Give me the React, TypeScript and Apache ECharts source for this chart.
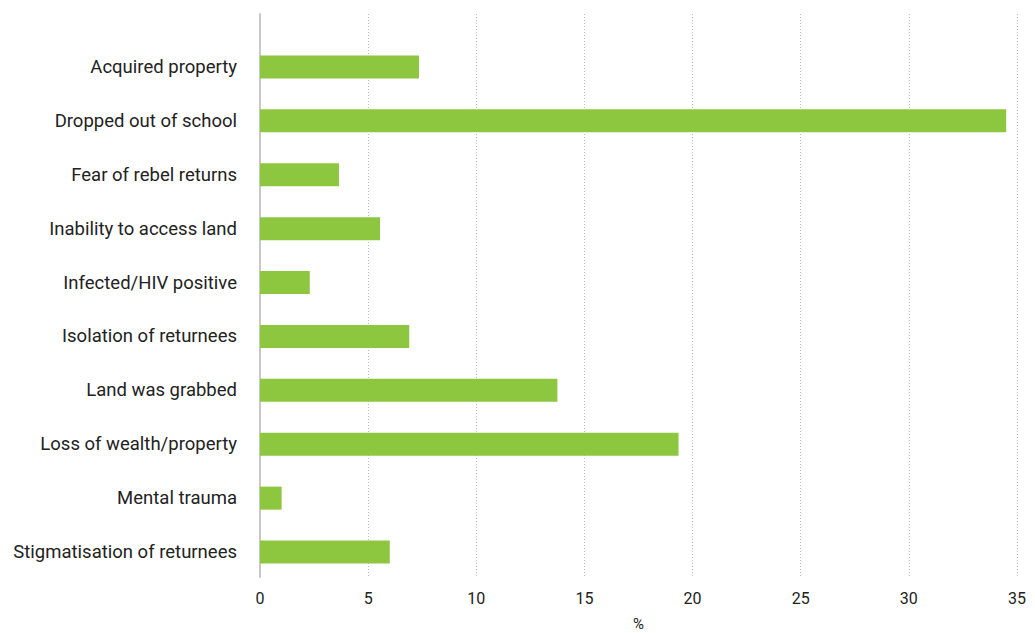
import React, { useEffect, useRef } from "react";
import * as echarts from "echarts";

const categories = [
  "Acquired property",
  "Dropped out of school",
  "Fear of rebel returns",
  "Inability to access land",
  "Infected/HIV positive",
  "Isolation of returnees",
  "Land was grabbed",
  "Loss of wealth/property",
  "Mental trauma",
  "Stigmatisation of returnees",
];
const values = [7.35, 34.5, 3.65, 5.55, 2.3, 6.9, 13.75, 19.35, 1.0, 6.0];
const xTicks = { min: 0, max: 35, interval: 5 };

const FONT = "Roboto, 'DejaVu Sans', sans-serif";

export default function App() {
  const ref = useRef<HTMLDivElement>(null);
  useEffect(() => {
    if (!ref.current) return;
    const chart = echarts.init(ref.current, undefined, { renderer: "svg" });
    chart.setOption({
      animation: false,
      backgroundColor: "#ffffff",
      textStyle: { fontFamily: FONT },
      grid: [
        { left: 260, right: 18, top: 14, bottom: 56, outerBoundsMode: "none", containLabel: false },
        { left: 260, right: 18, top: 40, bottom: 54, outerBoundsMode: "none", containLabel: false },
      ],
      xAxis: [
        {
          gridIndex: 0,
          type: "value",
          min: xTicks.min,
          max: xTicks.max,
          interval: xTicks.interval,
          axisLine: { show: false },
          axisTick: { show: false },
          axisLabel: { fontSize: 16, color: "#222", margin: 13, fontFamily: FONT },
          splitLine: { show: true, lineStyle: { color: "#bbbbbb", type: [1, 2], width: 1 } },
          name: "%",
          nameLocation: "middle",
          nameGap: 40,
          nameTextStyle: { fontSize: 15, lineHeight: 14, color: "#222", fontFamily: FONT },
        },
        {
          gridIndex: 1,
          type: "value",
          min: xTicks.min,
          max: xTicks.max,
          show: false,
        },
      ],
      yAxis: [
        {
          gridIndex: 0,
          type: "value",
          min: 0,
          max: 1,
          axisLabel: { show: false },
          axisTick: { show: false },
          splitLine: { show: false },
          axisLine: { show: true, lineStyle: { color: "#c8c8c8", width: 2 } },
        },
        {
          gridIndex: 1,
          type: "category",
          data: categories,
          inverse: true,
          axisLine: { show: false },
          axisTick: { show: false },
          splitLine: { show: false },
          axisLabel: { fontSize: 18.5, color: "#222", margin: 23, fontFamily: FONT },
        },
      ],
      series: [
        {
          type: "bar",
          xAxisIndex: 1,
          yAxisIndex: 1,
          data: values,
          barWidth: 23,
          itemStyle: { color: "#8dc63f" },
        },
      ],
    });
    return () => chart.dispose();
  }, []);
  return (
    <div
      ref={ref}
      style={{ position: "fixed", left: 0, top: 0, width: 1035, height: 633 }}
    />
  );
}
